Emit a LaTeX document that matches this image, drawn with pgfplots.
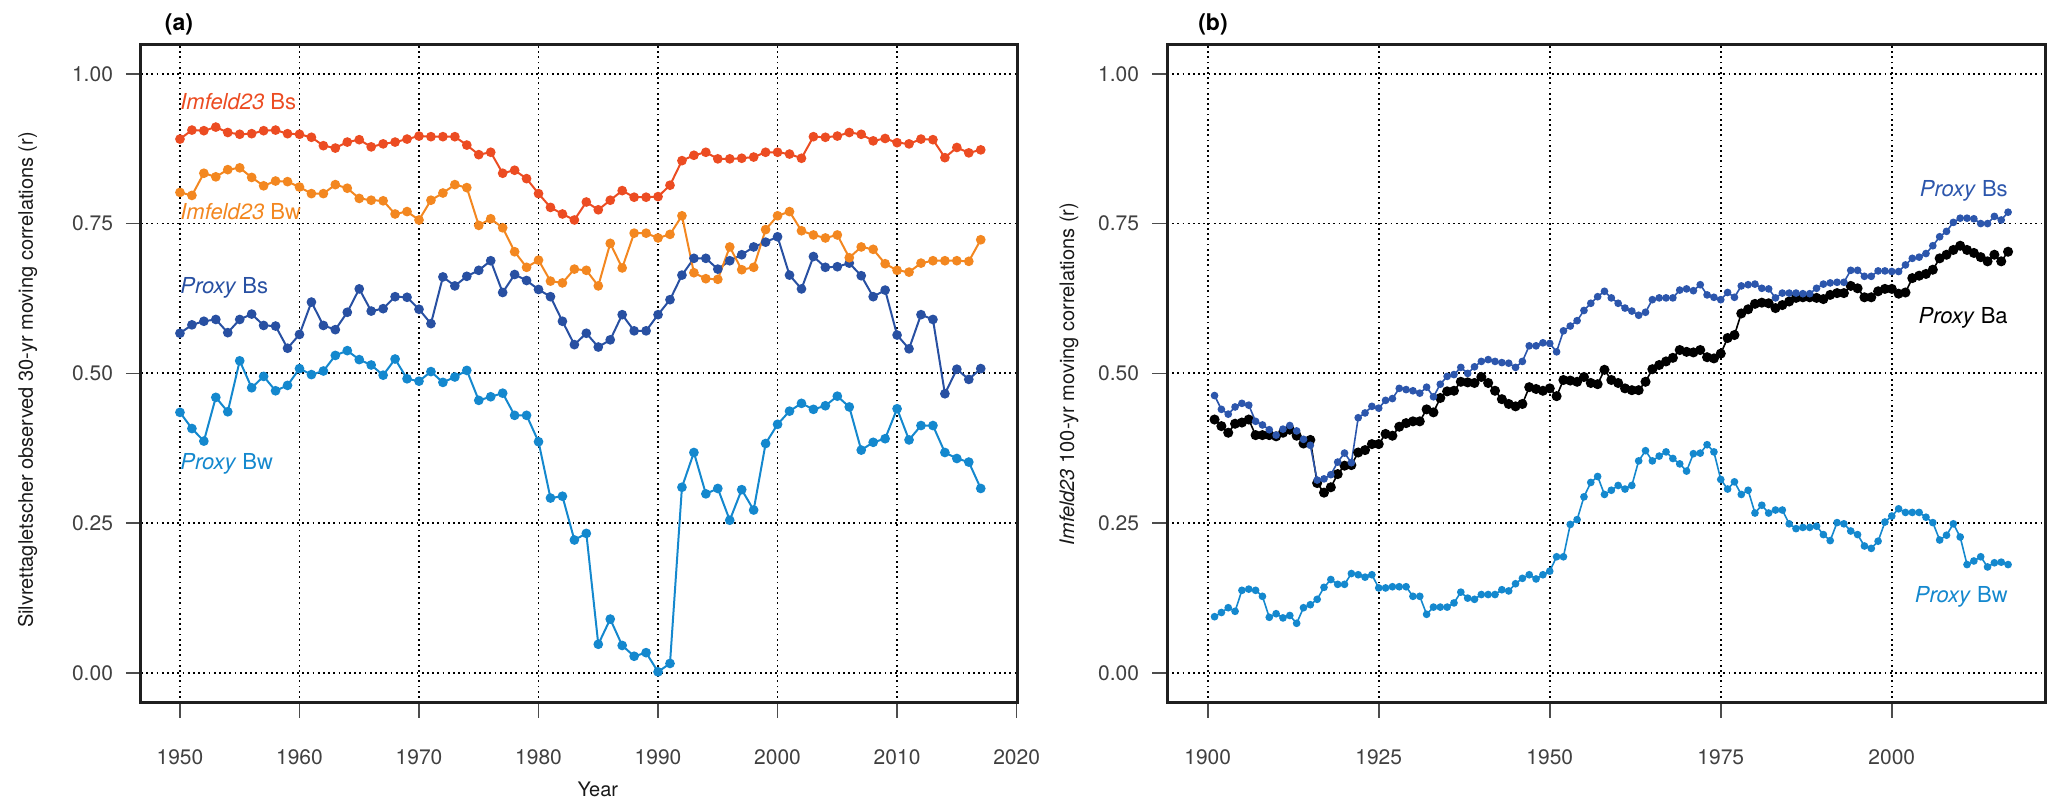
\documentclass[border=0pt]{standalone}
\usepackage{fontspec}
\setmainfont{TeX Gyre Heros}
\usepackage{pgfplots}
\usepackage{pgfplotstable}
\pgfplotsset{compat=1.18}
\definecolor{imbs}{RGB}{236,76,34}
\definecolor{imbw}{RGB}{243,135,32}
\definecolor{pbs}{RGB}{40,80,162}
\definecolor{pbsb}{RGB}{44,86,172}
\definecolor{pbw}{RGB}{20,136,206}

\pgfplotstableread{
year ibs ibw pbs pbw
1950 0.891 0.802 0.567 0.435
1951 0.906 0.797 0.581 0.408
1952 0.905 0.834 0.587 0.387
1953 0.911 0.828 0.590 0.460
1954 0.902 0.840 0.568 0.436
1955 0.899 0.843 0.590 0.521
1956 0.900 0.827 0.599 0.476
1957 0.905 0.813 0.580 0.495
1958 0.906 0.821 0.579 0.471
1959 0.900 0.820 0.542 0.480
1960 0.899 0.811 0.565 0.508
1961 0.894 0.800 0.619 0.498
1962 0.880 0.800 0.580 0.504
1963 0.876 0.815 0.573 0.530
1964 0.886 0.809 0.602 0.538
1965 0.890 0.792 0.641 0.523
1966 0.878 0.789 0.604 0.514
1967 0.883 0.788 0.608 0.497
1968 0.886 0.766 0.628 0.524
1969 0.891 0.770 0.627 0.491
1970 0.896 0.756 0.607 0.487
1971 0.895 0.789 0.583 0.503
1972 0.895 0.801 0.661 0.485
1973 0.895 0.815 0.646 0.494
1974 0.881 0.810 0.662 0.505
1975 0.865 0.747 0.672 0.455
1976 0.869 0.758 0.688 0.461
1977 0.834 0.743 0.635 0.467
1978 0.839 0.703 0.665 0.430
1979 0.825 0.677 0.655 0.430
1980 0.800 0.689 0.640 0.386
1981 0.777 0.654 0.628 0.292
1982 0.766 0.651 0.587 0.295
1983 0.756 0.674 0.548 0.222
1984 0.786 0.672 0.567 0.233
1985 0.773 0.646 0.544 0.048
1986 0.789 0.717 0.556 0.090
1987 0.805 0.676 0.598 0.046
1988 0.794 0.734 0.571 0.028
1989 0.794 0.734 0.571 0.034
1990 0.795 0.726 0.598 0.002
1991 0.814 0.732 0.623 0.016
1992 0.855 0.763 0.664 0.310
1993 0.864 0.668 0.692 0.368
1994 0.869 0.658 0.692 0.299
1995 0.858 0.657 0.674 0.308
1996 0.858 0.711 0.688 0.255
1997 0.859 0.673 0.698 0.306
1998 0.861 0.677 0.711 0.272
1999 0.869 0.740 0.719 0.383
2000 0.869 0.763 0.728 0.415
2001 0.866 0.770 0.664 0.437
2002 0.859 0.738 0.641 0.450
2003 0.895 0.731 0.695 0.440
2004 0.894 0.726 0.677 0.446
2005 0.896 0.731 0.678 0.462
2006 0.902 0.693 0.684 0.444
2007 0.899 0.711 0.663 0.372
2008 0.888 0.707 0.628 0.385
2009 0.892 0.683 0.639 0.391
2010 0.885 0.672 0.564 0.441
2011 0.883 0.669 0.541 0.389
2012 0.891 0.684 0.598 0.413
2013 0.890 0.688 0.590 0.413
2014 0.860 0.688 0.466 0.368
2015 0.877 0.688 0.507 0.358
2016 0.868 0.687 0.490 0.352
2017 0.873 0.723 0.508 0.308
}\tabA

\pgfplotstableread{
year bs ba bw
1901 0.463 0.423 0.094
1902 0.440 0.412 0.101
1903 0.432 0.401 0.109
1904 0.444 0.416 0.103
1905 0.450 0.418 0.138
1906 0.447 0.423 0.140
1907 0.420 0.397 0.138
1908 0.414 0.397 0.128
1909 0.406 0.397 0.093
1910 0.397 0.395 0.099
1911 0.407 0.401 0.092
1912 0.413 0.406 0.096
1913 0.404 0.396 0.083
1914 0.390 0.383 0.109
1915 0.380 0.389 0.114
1916 0.322 0.317 0.123
1917 0.324 0.301 0.143
1918 0.331 0.310 0.156
1919 0.352 0.332 0.148
1920 0.367 0.346 0.148
1921 0.351 0.347 0.166
1922 0.426 0.368 0.164
1923 0.434 0.372 0.160
1924 0.445 0.382 0.164
1925 0.442 0.382 0.142
1926 0.455 0.399 0.142
1927 0.458 0.396 0.144
1928 0.475 0.411 0.144
1929 0.473 0.417 0.144
1930 0.471 0.420 0.128
1931 0.467 0.420 0.128
1932 0.477 0.440 0.098
1933 0.461 0.435 0.110
1934 0.482 0.459 0.110
1935 0.495 0.470 0.110
1936 0.498 0.471 0.117
1937 0.510 0.486 0.135
1938 0.500 0.485 0.125
1939 0.511 0.484 0.123
1940 0.520 0.494 0.131
1941 0.523 0.484 0.131
1942 0.520 0.471 0.131
1943 0.518 0.457 0.139
1944 0.517 0.449 0.137
1945 0.510 0.445 0.149
1946 0.520 0.449 0.158
1947 0.546 0.477 0.164
1948 0.546 0.474 0.157
1949 0.551 0.471 0.164
1950 0.550 0.475 0.170
1951 0.536 0.462 0.194
1952 0.571 0.489 0.194
1953 0.579 0.488 0.248
1954 0.588 0.486 0.256
1955 0.605 0.494 0.294
1956 0.617 0.484 0.318
1957 0.628 0.482 0.328
1958 0.637 0.506 0.298
1959 0.626 0.489 0.305
1960 0.617 0.484 0.313
1961 0.609 0.475 0.307
1962 0.604 0.472 0.313
1963 0.597 0.472 0.354
1964 0.602 0.486 0.371
1965 0.623 0.507 0.354
1966 0.626 0.514 0.362
1967 0.626 0.520 0.369
1968 0.626 0.526 0.358
1969 0.639 0.539 0.349
1970 0.641 0.536 0.337
1971 0.638 0.535 0.366
1972 0.648 0.539 0.367
1973 0.631 0.527 0.381
1974 0.627 0.525 0.369
1975 0.623 0.533 0.323
1976 0.635 0.559 0.307
1977 0.627 0.564 0.319
1978 0.646 0.600 0.298
1979 0.648 0.607 0.305
1980 0.649 0.616 0.267
1981 0.642 0.618 0.280
1982 0.641 0.617 0.267
1983 0.626 0.609 0.272
1984 0.634 0.614 0.272
1985 0.634 0.620 0.249
1986 0.634 0.626 0.241
1987 0.633 0.627 0.243
1988 0.633 0.627 0.243
1989 0.642 0.626 0.245
1990 0.649 0.624 0.231
1991 0.651 0.631 0.221
1992 0.652 0.634 0.251
1993 0.652 0.634 0.249
1994 0.672 0.646 0.237
1995 0.672 0.642 0.231
1996 0.662 0.627 0.212
1997 0.662 0.627 0.208
1998 0.671 0.637 0.220
1999 0.671 0.641 0.252
2000 0.670 0.641 0.262
2001 0.670 0.633 0.274
2002 0.681 0.635 0.268
2003 0.692 0.659 0.268
2004 0.694 0.663 0.268
2005 0.700 0.666 0.260
2006 0.713 0.673 0.251
2007 0.728 0.692 0.222
2008 0.737 0.698 0.230
2009 0.752 0.706 0.249
2010 0.759 0.713 0.227
2011 0.759 0.706 0.181
2012 0.758 0.701 0.187
2013 0.750 0.694 0.194
2014 0.750 0.687 0.177
2015 0.762 0.698 0.184
2016 0.756 0.687 0.185
2017 0.769 0.703 0.181
}\tabB

\tikzset{lab/.style={font=\fontsize{11}{13}\selectfont, inner sep=0pt}}
\pgfplotsset{
  panel/.style={
    scale only axis, height=329pt,
    ymin=-0.050, ymax=1.048,
    ytick={0,0.25,0.5,0.75,1},
    y tick label style={/pgf/number format/fixed, /pgf/number format/fixed zerofill, /pgf/number format/precision=2},
    x tick label style={/pgf/number format/1000 sep={}},
    yticklabel style={xshift=-3pt},
    xticklabel style={yshift=-12.5pt},
    /pgf/number format/assume math mode=true,
    grid=major,
    grid style={black, line width=0.9pt, dash pattern=on 0.9pt off 1.7pt},
    axis line style={line width=1.5pt, black!88},
    tick align=outside, tick pos=left, major tick length=7.5pt,
    tick style={line width=0.8pt, black!70},
    ticklabel style={font=\fontsize{10.5}{12}\selectfont, text=black!75},
    every axis x label/.style={at={([yshift=-43pt]axis description cs:0.521,0)}, anchor=center, font=\fontsize{10}{12}\selectfont, text=black!90},
    clip=false,
  },
}

\begin{document}
\begin{tikzpicture}
\useasboundingbox (0,0) rectangle (1033.5pt,404pt);
\begin{axis}[panel, at={(70.5pt,52.5pt)}, anchor=south west, width=438.4pt,
  xmin=1946.74, xmax=2020.1, xtick={1950,1960,...,2020},
  xlabel={Year},
  every axis y label/.style={at={([xshift=-56.75pt,yshift=-3pt]axis description cs:0,0.5)}, rotate=90, anchor=center, font=\fontsize{10}{12}\selectfont, text=black!90},
  ylabel={Silvrettagletscher observed 30-yr moving correlations (r)}]
\addplot[pbw, line width=1pt, mark=*, mark size=1.9pt] table[x=year,y=pbw]{\tabA};
\addplot[pbs, line width=1pt, mark=*, mark size=1.9pt] table[x=year,y=pbs]{\tabA};
\addplot[imbw, line width=1pt, mark=*, mark size=1.9pt] table[x=year,y=ibw]{\tabA};
\addplot[imbs, line width=1pt, mark=*, mark size=1.9pt] table[x=year,y=ibs]{\tabA};
\node[lab, anchor=base west, text=imbs] at (axis cs:1950,0.940) {\textit{Imfeld23} Bs};
\node[lab, anchor=base west, text=imbw] at (axis cs:1950,0.756) {\textit{Imfeld23} Bw};
\node[lab, anchor=base west, text=pbs] at (axis cs:1950,0.634) {\textit{Proxy} Bs};
\node[lab, anchor=base west, text=pbw] at (axis cs:1950,0.339) {\textit{Proxy} Bw};
\node[font=\bfseries\fontsize{11.5}{13}\selectfont, anchor=center] at ([xshift=19pt,yshift=10.5pt]rel axis cs:0,1) {(a)};
\end{axis}
\begin{axis}[panel, at={(583.5pt,52.5pt)}, anchor=south west, width=439pt,
  xmin=1894.05, xmax=2022.4, xtick={1900,1925,...,2000},
  every axis y label/.style={at={([xshift=-49pt]axis description cs:0,0.5)}, rotate=90, anchor=center, font=\fontsize{10}{12}\selectfont, text=black!90},
  ylabel={\textit{Imfeld23} 100-yr moving correlations (r)}]
\addplot[pbw, line width=0.8pt, mark=*, mark size=1.5pt] table[x=year,y=bw]{\tabB};
\addplot[black, line width=0.8pt, mark=*, mark size=2.1pt] table[x=year,y=ba]{\tabB};
\addplot[pbsb, line width=0.8pt, mark=*, mark size=1.5pt] table[x=year,y=bs]{\tabB};
\node[lab, anchor=base east, text=pbsb] at (axis cs:2017,0.795) {\textit{Proxy} Bs};
\node[lab, anchor=base east, text=black] at (axis cs:2017,0.583) {\textit{Proxy} Ba};
\node[lab, anchor=base east, text=pbw] at (axis cs:2017,0.117) {\textit{Proxy} Bw};
\node[font=\bfseries\fontsize{11.5}{13}\selectfont, anchor=center] at ([xshift=23pt,yshift=10.5pt]rel axis cs:0,1) {(b)};
\end{axis}
\end{tikzpicture}
\end{document}
